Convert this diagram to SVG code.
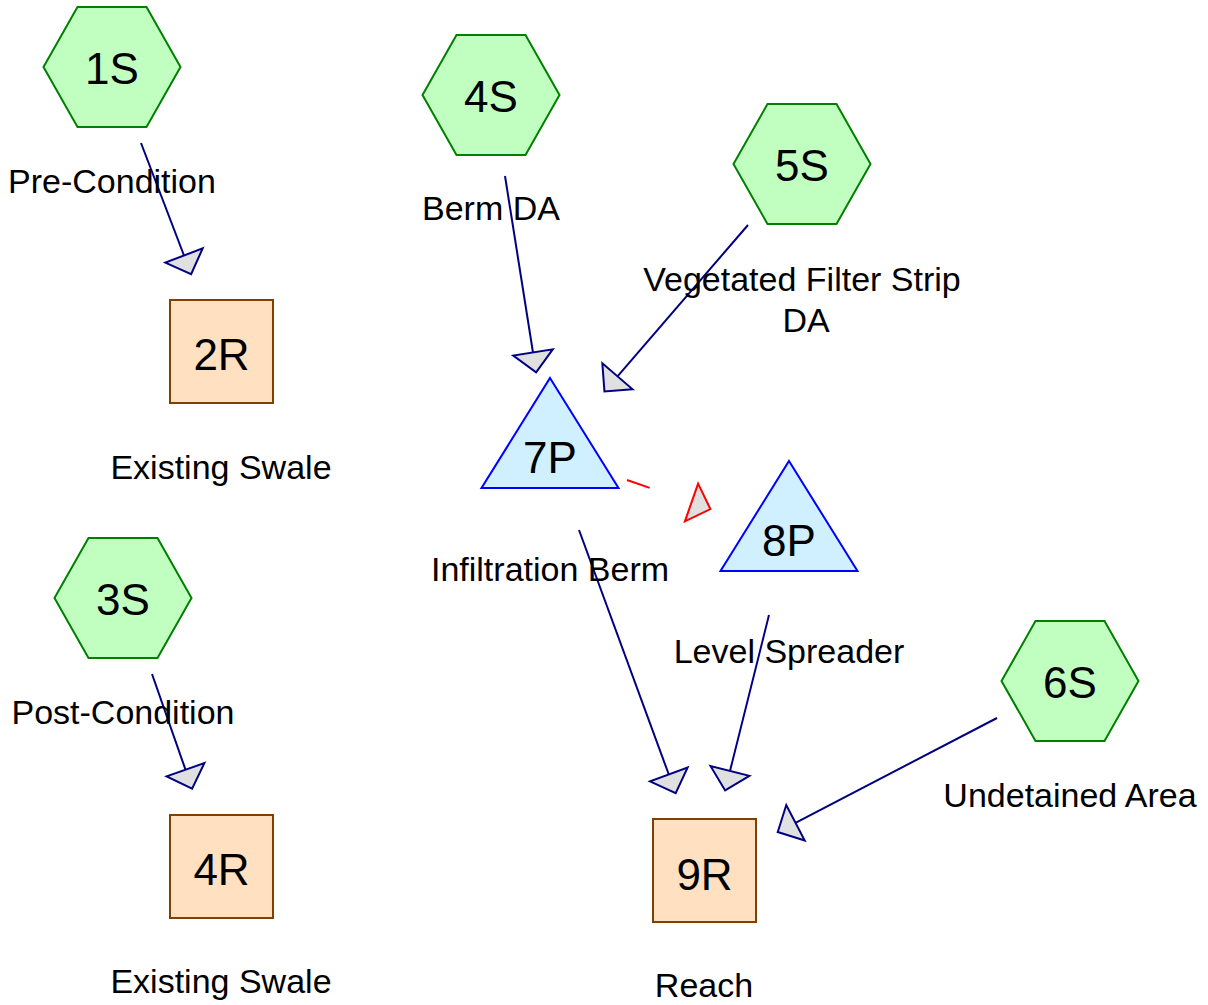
<svg xmlns="http://www.w3.org/2000/svg" width="1208" height="1005" viewBox="0 0 1208 1005">
<defs>
<style>
.hex{fill:#c0ffc0;stroke:#008000;stroke-width:2}
.rect{fill:#ffe0c0;stroke:#804000;stroke-width:2}
.tri{fill:#d0f0ff;stroke:#0000ff;stroke-width:2}
.id{font-family:"Liberation Sans",Arial,sans-serif;font-size:44px;fill:#000;text-anchor:middle}
.lbl{font-family:"Liberation Sans",Arial,sans-serif;font-size:34px;fill:#000;text-anchor:middle}
.con{stroke:#000080;stroke-width:2;fill:none}
.red{stroke:#ff0000;stroke-width:2;fill:none;stroke-dasharray:24 100}
</style>
<marker id="ah" markerUnits="userSpaceOnUse" markerWidth="44" markerHeight="44" refX="0" refY="0" viewBox="-2 -22 24 44" orient="auto" overflow="visible">
<path d="M0,-20 L20,0 L0,20 Z" fill="#e0e0e0" stroke="#000080" stroke-width="2" stroke-linejoin="miter"/>
</marker>
<marker id="ahr" markerUnits="userSpaceOnUse" markerWidth="44" markerHeight="44" refX="0" refY="0" viewBox="-2 -22 24 44" orient="auto" overflow="visible">
<path d="M0,-20 L20,0 L0,20 Z" fill="#e0e0e0" stroke="#ff0000" stroke-width="2"/>
</marker>
</defs>
<rect width="1208" height="1005" fill="#ffffff"/>
<g id="connectors">
<line class="con" x1="141" y1="143" x2="184" y2="255.5" marker-end="url(#ah)"/>
<line class="con" x1="152" y1="674" x2="185.5" y2="769.7" marker-end="url(#ah)"/>
<line class="con" x1="505" y1="176" x2="533" y2="352.5" marker-end="url(#ah)"/>
<line class="con" x1="748" y1="225" x2="617.5" y2="376.3" marker-end="url(#ah)"/>
<line class="con" x1="579" y1="530" x2="668.8" y2="774.5" marker-end="url(#ah)"/>
<line class="con" x1="769" y1="615" x2="730" y2="771" marker-end="url(#ah)"/>
<line class="con" x1="997" y1="718" x2="795.5" y2="822.8" marker-end="url(#ah)"/>
<line class="red" x1="627" y1="480" x2="691.5" y2="502.5" marker-end="url(#ahr)"/>
</g>
<g id="node-1S">
<polygon class="hex" points="43.5,67 77.5,7 146.5,7 180.5,67 146.5,127 77.5,127"/>
<text class="id" x="112" y="84">1S</text>
<text class="lbl" x="112" y="193">Pre-Condition</text>
</g>
<g id="node-2R">
<rect class="rect" x="170" y="300" width="103" height="103"/>
<text class="id" x="221.5" y="370">2R</text>
<text class="lbl" x="221" y="479">Existing Swale</text>
</g>
<g id="node-3S">
<polygon class="hex" points="54.5,598 88.5,538 157.5,538 191.5,598 157.5,658 88.5,658"/>
<text class="id" x="123" y="615">3S</text>
<text class="lbl" x="123" y="724">Post-Condition</text>
</g>
<g id="node-4R">
<rect class="rect" x="170" y="815" width="103" height="103"/>
<text class="id" x="221.5" y="885">4R</text>
<text class="lbl" x="221" y="993">Existing Swale</text>
</g>
<g id="node-4S">
<polygon class="hex" points="422.5,95 456.5,35 525.5,35 559.5,95 525.5,155 456.5,155"/>
<text class="id" x="491" y="112">4S</text>
<text class="lbl" x="491" y="220">Berm DA</text>
</g>
<g id="node-5S">
<polygon class="hex" points="733.5,164 767.5,104 836.5,104 870.5,164 836.5,224 767.5,224"/>
<text class="id" x="802" y="181">5S</text>
<text class="lbl" x="802" y="291">Vegetated Filter Strip</text>
<text class="lbl" x="806" y="332">DA</text>
</g>
<g id="node-6S">
<polygon class="hex" points="1001.5,681 1035.5,621 1104.5,621 1138.5,681 1104.5,741 1035.5,741"/>
<text class="id" x="1070" y="698">6S</text>
<text class="lbl" x="1070" y="807">Undetained Area</text>
</g>
<g id="node-7P">
<polygon class="tri" points="550,378 618.5,488 481.5,488"/>
<text class="id" x="550" y="473">7P</text>
<text class="lbl" x="550" y="581">Infiltration Berm</text>
</g>
<g id="node-8P">
<polygon class="tri" points="789,461 857.5,571 720.5,571"/>
<text class="id" x="789" y="556">8P</text>
<text class="lbl" x="789" y="663">Level Spreader</text>
</g>
<g id="node-9R">
<rect class="rect" x="653" y="819" width="103" height="103"/>
<text class="id" x="704.5" y="890">9R</text>
<text class="lbl" x="704" y="997">Reach</text>
</g>
</svg>
